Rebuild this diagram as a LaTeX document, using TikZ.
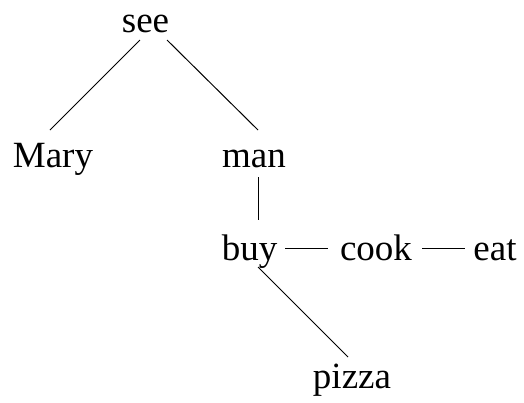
\documentclass[tikz,border=0pt]{standalone}
\usepackage{fontspec}
\setmainfont{Liberation Serif}
\usetikzlibrary{positioning}

\begin{document}
\begin{tikzpicture}[
    x=0.5pt, y=-0.5pt,
    word/.style={anchor=base, inner sep=0pt, font=\fontsize{18.5}{22}\selectfont},
    link/.style={line width=0.5pt},
]
\useasboundingbox (0,0) rectangle (524,402);

% Words
\node[word] (see)   at (145.5,32) {see};
\node[word] (Mary)  at (53,167)   {Mary};
\node[word] (man)   at (254,167)  {man};
\node[word] (buy)   at (249.5,260) {buy};
\node[word] (cook)  at (376,260)  {cook};
\node[word] (eat)   at (495,260)  {eat};
\node[word] (pizza) at (352,388)  {pizza};

% Links
\draw[link] ([shift={(-5.5,8)}]see.base) -- ([shift={(-3,-37)}]Mary.base);
\draw[link] ([shift={(21.5,8)}]see.base) -- ([shift={(4,-37)}]man.base);
\draw[link] ([shift={(4,10)}]man.base) -- ([shift={(8.5,-40)}]buy.base);
\draw[link] ([shift={(35.5,-12)}]buy.base) -- ([shift={(-48,-12)}]cook.base);
\draw[link] ([shift={(46,-12)}]cook.base) -- ([shift={(-30,-12)}]eat.base);
\draw[link] ([shift={(8.5,7)}]buy.base) -- ([shift={(-4,-31)}]pizza.base);

\end{tikzpicture}
\end{document}
